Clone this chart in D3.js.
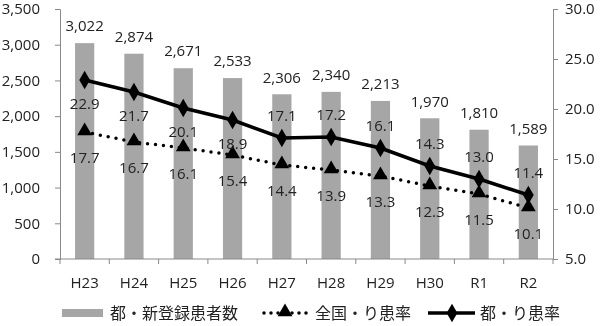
<!DOCTYPE html>
<html>
<head>
<meta charset="utf-8">
<script src="https://cdn.jsdelivr.net/npm/d3@7"></script>
<style>
	body { margin: 0; background: #fff; }
	svg { display: block; font-family: "Noto Sans CJK JP", "Open Sans", sans-serif; will-change: transform; }
	.axis path, .axis line { stroke: #898989; }
	.axis text { fill: #222; font-size: 15px; font-family: "Open Sans", sans-serif; }
	.lbl { fill: #222; font-size: 15px; font-family: "Open Sans", sans-serif; }
</style>
</head>
<body>
<div id="chart"></div>
<script>
const years = ['H23', 'H24', 'H25', 'H26', 'H27', 'H28', 'H29', 'H30', 'R1', 'R2'];
const newPatients = [3022, 2874, 2671, 2533, 2306, 2340, 2213, 1970, 1810, 1589];
const nationalRate = [17.7, 16.7, 16.1, 15.4, 14.4, 13.9, 13.3, 12.3, 11.5, 10.1];
const tokyoRate = [22.9, 21.7, 20.1, 18.9, 17.1, 17.2, 16.1, 14.3, 13.0, 11.4];
const leftTicks = [0, 500, 1000, 1500, 2000, 2500, 3000, 3500];
const rightTicks = [5, 10, 15, 20, 25, 30];
const legendNames = ['都・新登録患者数', '全国・り患率', '都・り患率'];

(() => {
	const width = 600, height = 326;
	const left = 60, right = 553, top = 9, bottom = 259;

	const svg = d3.select('#chart').append('svg')
		.attr('width', width)
		.attr('height', height);

	const x = d3.scaleBand()
		.domain(years)
		.range([left, right])
		.paddingInner(0.61)
		.paddingOuter(0.305);
	const yL = d3.scaleLinear().domain([0, 3500]).range([bottom, top]);
	const yR = d3.scaleLinear().domain([5, 30]).range([bottom, top]);
	const cx = (d) => x(d) + x.bandwidth() / 2;

	// bars
	svg.append('g').selectAll('rect')
		.data(years)
		.enter()
		.append('rect')
		.attr('x', (d) => x(d))
		.attr('y', (d, i) => yL(newPatients[i]))
		.attr('width', x.bandwidth())
		.attr('height', (d, i) => bottom - yL(newPatients[i]))
		.style('fill', '#a6a6a6');

	// axes
	svg.append('g')
		.attr('class', 'axis')
		.attr('transform', `translate(${left},0)`)
		.call(d3.axisLeft(yL).tickValues(leftTicks).tickSize(5).tickPadding(15).tickFormat(d3.format(',')));
	svg.append('g')
		.attr('class', 'axis')
		.attr('transform', `translate(${right},0)`)
		.call(d3.axisRight(yR).tickValues(rightTicks).tickSize(5).tickPadding(7).tickFormat(d3.format('.1f')));

	const xAxis = svg.append('g')
		.attr('class', 'axis')
		.attr('transform', `translate(0,${bottom})`);
	xAxis.append('line')
		.attr('x1', left - 5).attr('x2', right)
		.attr('y1', 0).attr('y2', 0);
	const step = x.step();
	xAxis.selectAll('.tk')
		.data(d3.range(years.length + 1))
		.enter()
		.append('line')
		.attr('x1', (i) => left + i * step)
		.attr('x2', (i) => left + i * step)
		.attr('y1', 0).attr('y2', 5);
	xAxis.selectAll('text')
		.data(years)
		.enter()
		.append('text')
		.attr('x', cx)
		.attr('y', 24)
		.attr('dy', '0.35em')
		.style('text-anchor', 'middle')
		.text((d) => d);

	// bar labels
	svg.append('g').selectAll('text')
		.data(years)
		.enter()
		.append('text')
		.attr('class', 'lbl')
		.attr('x', cx)
		.attr('y', (d, i) => yL(newPatients[i]) - 17)
		.attr('dy', '0.35em')
		.style('text-anchor', 'middle')
		.text((d, i) => d3.format(',')(newPatients[i]));

	const line = (vals) => d3.line()
		.x((d) => cx(d))
		.y((d, i) => yR(vals[i]))(years);

	// national rate (dotted)
	svg.append('path')
		.attr('d', line(nationalRate))
		.style('fill', 'none')
		.style('stroke', '#000')
		.style('stroke-width', 3.5)
		.style('stroke-linecap', 'round')
		.style('stroke-dasharray', '0 8');

	// tokyo rate (solid)
	svg.append('path')
		.attr('d', line(tokyoRate))
		.style('fill', 'none')
		.style('stroke', '#000')
		.style('stroke-width', 3.5);

	const tri = d3.symbol().type(d3.symbolTriangle).size(95);
	const dia = d3.symbol().type(d3.symbolDiamond).size(100);

	svg.append('g').selectAll('path')
		.data(years)
		.enter()
		.append('path')
		.attr('d', tri)
		.attr('transform', (d, i) => `translate(${cx(d)},${yR(nationalRate[i]) - 1})`)
		.style('fill', '#000');
	svg.append('g').selectAll('path')
		.data(years)
		.enter()
		.append('path')
		.attr('d', dia)
		.attr('transform', (d, i) => `translate(${cx(d)},${yR(tokyoRate[i])})`)
		.style('fill', '#000');

	// rate labels
	svg.append('g').selectAll('text')
		.data(years)
		.enter()
		.append('text')
		.attr('class', 'lbl')
		.attr('x', cx)
		.attr('y', (d, i) => yR(nationalRate[i]) + 26)
		.attr('dy', '0.35em')
		.style('text-anchor', 'middle')
		.text((d, i) => nationalRate[i].toFixed(1));
	svg.append('g').selectAll('text')
		.data(years)
		.enter()
		.append('text')
		.attr('class', 'lbl')
		.attr('x', cx)
		.attr('y', (d, i) => yR(tokyoRate[i]) + (i < 4 ? 24 : -22))
		.attr('dy', '0.35em')
		.style('text-anchor', 'middle')
		.text((d, i) => tokyoRate[i].toFixed(1));

	// legend
	const ly = 313;
	const legend = svg.append('g').style('font-size', '16px').style('fill', '#222');
	legend.append('rect')
		.attr('x', 62).attr('y', ly - 4)
		.attr('width', 41).attr('height', 8)
		.style('fill', '#a6a6a6');
	legend.append('text').attr('x', 110).attr('y', ly).attr('dy', '0.35em').text(legendNames[0]);

	legend.append('line')
		.attr('x1', 264).attr('x2', 308)
		.attr('y1', ly).attr('y2', ly)
		.style('stroke', '#000')
		.style('stroke-width', 3.5)
		.style('stroke-linecap', 'round')
		.style('stroke-dasharray', '0 7');
	legend.append('path').attr('d', tri).attr('transform', `translate(285,${ly - 1})`).style('fill', '#000');
	legend.append('text').attr('x', 315).attr('y', ly).attr('dy', '0.35em').text(legendNames[1]);

	legend.append('line')
		.attr('x1', 428).attr('x2', 475)
		.attr('y1', ly).attr('y2', ly)
		.style('stroke', '#000')
		.style('stroke-width', 3.5);
	legend.append('path').attr('d', dia).attr('transform', `translate(452,${ly})`).style('fill', '#000');
	legend.append('text').attr('x', 480).attr('y', ly).attr('dy', '0.35em').text(legendNames[2]);
})();
</script>
</body>
</html>
